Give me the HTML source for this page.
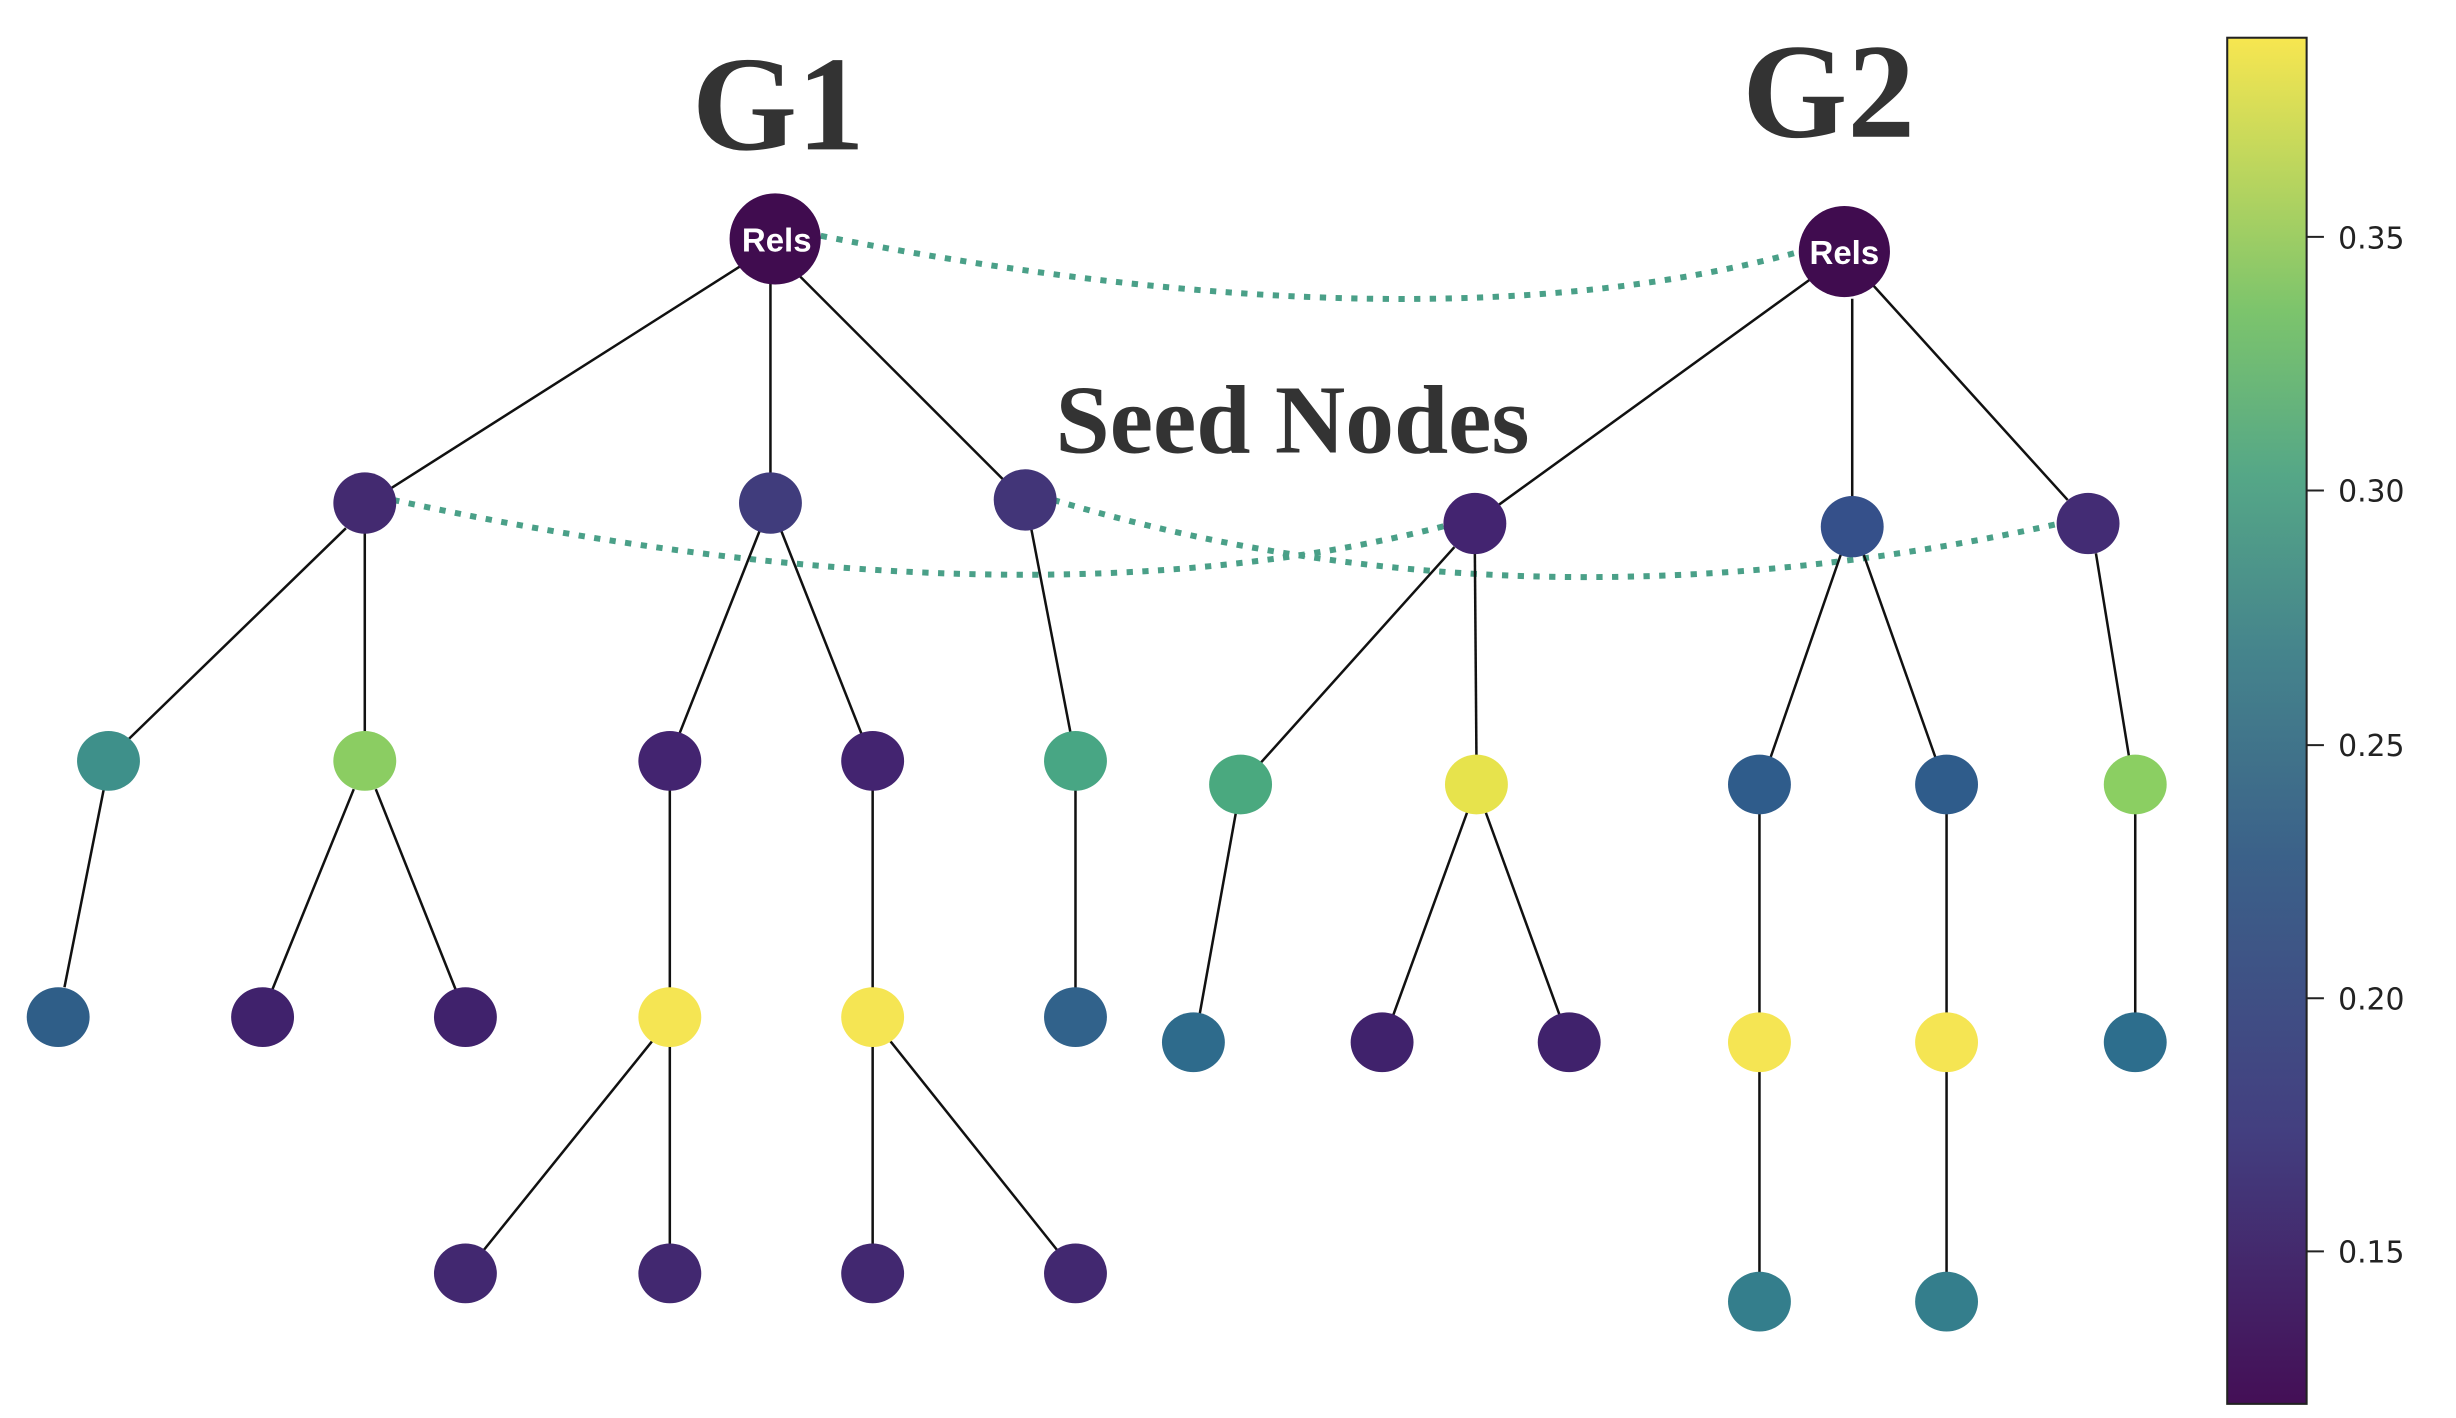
<!DOCTYPE html>
<html><head><meta charset="utf-8"><style>
html,body{margin:0;padding:0;background:#fff;}
svg{display:block;}
</style></head><body>
<svg width="2456" height="1418" viewBox="0 0 1562 902" preserveAspectRatio="none" xmlns="http://www.w3.org/2000/svg">
<defs>
<linearGradient id="cb" x1="0" y1="1" x2="0" y2="0">
<stop offset="0" stop-color="#440f56"/>
<stop offset="0.2" stop-color="#433f80"/>
<stop offset="0.4" stop-color="#3b6189"/>
<stop offset="0.55" stop-color="#45848c"/>
<stop offset="0.68" stop-color="#55a787"/>
<stop offset="0.8" stop-color="#7cc46c"/>
<stop offset="1" stop-color="#f7e650"/>
</linearGradient>
</defs>
<g fill="none" stroke="#4aa088" stroke-width="3.8" stroke-dasharray="4 6">
<path d="M522,150 Q906,225 1145,160"/>
<path d="M250,318 Q652,405 925,333"/>
<path d="M670,318 Q970,408 1310,333"/>
</g>
<g stroke="#111" stroke-width="1.6" fill="none">
<line x1="473" y1="168" x2="248" y2="311"/>
<line x1="490" y1="180" x2="490" y2="302"/>
<line x1="508" y1="175" x2="638" y2="305"/>
<line x1="220" y1="336" x2="82" y2="470"/>
<line x1="232" y1="338" x2="232" y2="466"/>
<line x1="483" y1="338" x2="432" y2="467"/>
<line x1="497" y1="338" x2="548" y2="467"/>
<line x1="656" y1="337" x2="681" y2="467"/>
<line x1="66" y1="502" x2="41" y2="628"/>
<line x1="225" y1="502" x2="173" y2="630"/>
<line x1="239" y1="502" x2="290" y2="630"/>
<line x1="426" y1="502" x2="426" y2="630"/>
<line x1="555" y1="502" x2="555" y2="630"/>
<line x1="684" y1="502" x2="684" y2="630"/>
<line x1="415" y1="662" x2="307" y2="796"/>
<line x1="426" y1="665" x2="426" y2="792"/>
<line x1="555" y1="665" x2="555" y2="792"/>
<line x1="566" y1="662" x2="673" y2="796"/>
<line x1="1155" y1="175" x2="952" y2="322"/>
<line x1="1178" y1="190" x2="1178" y2="316"/>
<line x1="1190" y1="180" x2="1315" y2="318"/>
<line x1="925" y1="348" x2="802" y2="485"/>
<line x1="938" y1="352" x2="939" y2="481"/>
<line x1="1171" y1="352" x2="1126" y2="482"/>
<line x1="1185" y1="352" x2="1231" y2="482"/>
<line x1="1333" y1="352" x2="1354" y2="481"/>
<line x1="786" y1="517" x2="763" y2="645"/>
<line x1="933" y1="517" x2="886" y2="646"/>
<line x1="945" y1="517" x2="992" y2="646"/>
<line x1="1119" y1="517" x2="1119" y2="645"/>
<line x1="1238" y1="517" x2="1238" y2="645"/>
<line x1="1358" y1="517" x2="1358" y2="645"/>
<line x1="1119" y1="681" x2="1119" y2="810"/>
<line x1="1238" y1="681" x2="1238" y2="810"/>
</g>
<g>
<ellipse cx="493" cy="152" rx="29" ry="29" fill="#400c4f"/>
<ellipse cx="1173" cy="160" rx="29" ry="29" fill="#400c4f"/>
<ellipse cx="232" cy="320" rx="20" ry="19.5" fill="#432a70"/>
<ellipse cx="490" cy="320" rx="20" ry="19.5" fill="#403c7c"/>
<ellipse cx="652" cy="318" rx="20" ry="19.5" fill="#423578"/>
<ellipse cx="69" cy="484" rx="20" ry="19" fill="#3e908a"/>
<ellipse cx="232" cy="484" rx="20" ry="19" fill="#8bcd62"/>
<ellipse cx="426" cy="484" rx="20" ry="19" fill="#432470"/>
<ellipse cx="555" cy="484" rx="20" ry="19" fill="#432470"/>
<ellipse cx="684" cy="484" rx="20" ry="19" fill="#48a684"/>
<ellipse cx="37" cy="647" rx="20" ry="19" fill="#2f5e88"/>
<ellipse cx="167" cy="647" rx="20" ry="19" fill="#40226c"/>
<ellipse cx="296" cy="647" rx="20" ry="19" fill="#40226c"/>
<ellipse cx="426" cy="647" rx="20" ry="19" fill="#f5e553"/>
<ellipse cx="555" cy="647" rx="20" ry="19" fill="#f5e553"/>
<ellipse cx="684" cy="647" rx="20" ry="19" fill="#31628b"/>
<ellipse cx="296" cy="810" rx="20" ry="19" fill="#422870"/>
<ellipse cx="426" cy="810" rx="20" ry="19" fill="#422870"/>
<ellipse cx="555" cy="810" rx="20" ry="19" fill="#422870"/>
<ellipse cx="684" cy="810" rx="20" ry="19" fill="#422870"/>
<ellipse cx="938" cy="333" rx="20" ry="19.5" fill="#432470"/>
<ellipse cx="1178" cy="335" rx="20" ry="19.5" fill="#35508a"/>
<ellipse cx="1328" cy="333" rx="20" ry="19.5" fill="#432c74"/>
<ellipse cx="789" cy="499" rx="20" ry="19" fill="#4aa97f"/>
<ellipse cx="939" cy="499" rx="20" ry="19" fill="#e7e34c"/>
<ellipse cx="1119" cy="499" rx="20" ry="19" fill="#2f5c8b"/>
<ellipse cx="1238" cy="499" rx="20" ry="19" fill="#2f5c8b"/>
<ellipse cx="1358" cy="499" rx="20" ry="19" fill="#8bcf62"/>
<ellipse cx="759" cy="663" rx="20" ry="19" fill="#2e6b8c"/>
<ellipse cx="879" cy="663" rx="20" ry="19" fill="#40226c"/>
<ellipse cx="998" cy="663" rx="20" ry="19" fill="#40226c"/>
<ellipse cx="1119" cy="663" rx="20" ry="19" fill="#f5e553"/>
<ellipse cx="1238" cy="663" rx="20" ry="19" fill="#f5e553"/>
<ellipse cx="1358" cy="663" rx="20" ry="19" fill="#2d6e8d"/>
<ellipse cx="1119" cy="828" rx="20" ry="19" fill="#347e8c"/>
<ellipse cx="1238" cy="828" rx="20" ry="19" fill="#347e8c"/>
</g>
<g font-family="Liberation Sans, sans-serif" font-weight="bold" font-size="21" fill="#fff" text-anchor="middle">
<text x="494" y="160">Rels</text>
<text x="1173" y="168">Rels</text>
</g>
<g font-family="Liberation Serif, serif" font-weight="bold" fill="#333">
<text x="495" y="95" font-size="86" text-anchor="middle">G1</text>
<text x="1163" y="87" font-size="86" text-anchor="middle">G2</text>
<text x="822" y="288" font-size="62" text-anchor="middle">Seed Nodes</text>
</g>
<rect x="1416.5" y="24" width="50.5" height="869" fill="url(#cb)" stroke="#222" stroke-width="1.3"/>
<g stroke="#222" stroke-width="1.3">
<line x1="1467" y1="150.7" x2="1478" y2="150.7"/>
<line x1="1467" y1="312" x2="1478" y2="312"/>
<line x1="1467" y1="474" x2="1478" y2="474"/>
<line x1="1467" y1="635" x2="1478" y2="635"/>
<line x1="1467" y1="796" x2="1478" y2="796"/>
</g>
<g font-family="DejaVu Sans, Liberation Sans, sans-serif" font-size="19" fill="#222">
<text x="1487" y="158">0.35</text>
<text x="1487" y="319">0.30</text>
<text x="1487" y="481">0.25</text>
<text x="1487" y="642">0.20</text>
<text x="1487" y="803">0.15</text>
</g>
</svg>
</body></html>
